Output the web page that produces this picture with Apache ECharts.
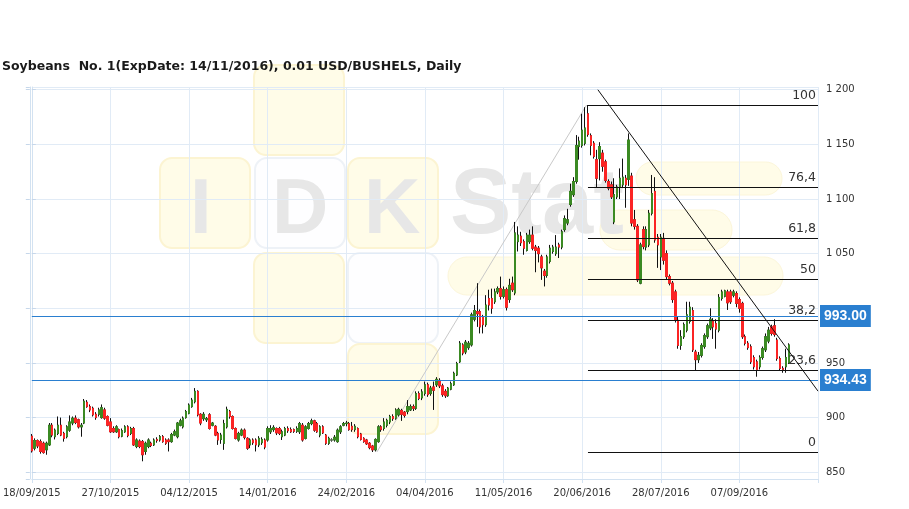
<!DOCTYPE html>
<html><head><meta charset="utf-8">
<script src="https://cdn.jsdelivr.net/npm/echarts@6/dist/echarts.min.js"></script>
<style>html,body{margin:0;padding:0;background:#fff}#c{width:909px;height:509px}</style>
</head><body><div id="c"></div>
<script>
const chartTitle = 'Soybeans  No. 1(ExpDate: 14/11/2016), 0.01 USD/BUSHELS, Daily';
// exchange holidays / days without data (skipped in the trading calendar)
const skippedDays = ['2015-11-26','2015-12-25','2016-01-01','2016-01-18','2016-02-15','2016-03-25','2016-05-30','2016-07-04','2016-08-01','2016-09-05'];
const tickLabels = ['18/09/2015','27/10/2015','04/12/2015','14/01/2016','24/02/2016','04/04/2016','11/05/2016','20/06/2016','28/07/2016','07/09/2016'];
const emptySlots = 10;
// [open, close, low, high]
const ohlc = [
[883,869.5,868,885],[872,879,870,881],[879,874,872,880],[878,869,867,880],[876.5,868,867,878],[870.5,876.5,866,878],[875,893,874,895],[893,884,882,895],[882.5,888.5,880,890],[885.5,893,884,901],
[893,884,883,900],[885.5,881,878,887],[882.5,891.5,881,893],[888.5,896,887,902],[895,899.5,893,901],[899.5,895.5,894,902],[898,891.5,890,899],[891.5,893,882.5,895],[895,915,894,917],[914,910,909,916],
[910,907,905,912],[908.5,902.5,901,910],[903,900,898,905],[903,907,901,909],[900,909,899,912],[907,899.5,898,909],[901,893,892,902],[896,887,886,899.5],[890,887,886,892],[887,891.5,886,893],
[889,882.5,881,890],[883,888,882,890],[887,891.5,886,893],[891.5,883.5,882,893],[885.5,890,884,891.5],[890,875,874,891.5],[873.5,879.5,872,881],[878.5,873.5,872,880],[878,866,860,879.5],[869,876.5,866,878],
[873.5,879.5,872,881],[876.5,874.5,873,878],[875,879.5,874,881],[880,879,877,882],[879.5,882.5,878,884],[882.5,878,877,884],[879.5,876.5,875,881],[879.5,878,869,881],[878,884.5,877,886],[884,887,883,889],
[882.5,895,881,896],[893,897,892,899],[891.5,899.5,890,901],[900,905.5,899,907],[904,911.5,903,913],[910,916,909,918],[914.5,924,913,927],[924,902.5,901,925],[903,895,893,904],[899,903,897,905],
[898,899,896,900.5],[902.5,890,889,904],[893,895,892,896],[892,884,883,893],[885.5,879.5,875,887],[880,884,876,886],[876.5,894.5,870.5,898],[891.5,907.5,890,910],[905.5,901,899,907],[901,890,889,902],
[890,881,880,891],[879.5,885.5,878,887],[884,888.5,883,890],[888.5,882,880,890],[881,872,870.5,882],[875,879.5,872,881],[879.5,877,875,881],[879.5,875,869,881],[875,881,873,883],[877,880,875,882],
[879.5,873,871,881],[879.5,890,878,892],[887,890,885,893],[889,891,887,893],[890,886,884,891],[890,885.5,884,891.5],[882.5,887,879.5,889],[884,890,883,891.5],[890,888,886,892],[889,887,886,891],
[889,887.5,886,890],[887.5,890,886,892],[887,894.5,885,896],[893,879.5,878,895],[881,891.5,880,893],[890,894.5,889,896],[894.5,897,893,899],[897,888.5,887,898],[894.5,887,886,896],[884,891.5,882,893],
[891.5,886,885,893],[884,876.5,875,885],[876.5,881,875,882.5],[879.5,879.5,878,881],[879.5,882,878,884],[878,888.5,877,890],[887,891.5,885,893],[893,894.5,892,896],[894.5,895,892,897],[894.5,889,888,896],
[892,889,887,896],[889,892,887,894],[890,882.5,881,891],[885,880,879,886],[881,878,877,882],[879.5,876,875,880.5],[876.5,872.5,871,877.5],[874,870.5,868.5,875],[870.5,880,869,881],[878,891.5,877,893],
[891.5,889,887,893],[890,896,888,899.5],[893,897.5,891,899],[896,901,894,902.5],[901,899,897,903],[899.5,907,898,908.5],[902.5,907.5,901,909],[906.5,903,897,908],[905,902,900,906],[905.5,910,903,916],
[907,910,906,912],[910,908.5,906,912],[908.5,922,907,924],[922,917.5,916,924],[918,923.5,916,926],[922,930,920,933],[930,921,919,932],[922,927,920,929],[928,925,907,933],[930,935,928,937],
[934,929,927,936],[929,921,919,931],[924,920,918,926],[920,927,919,928],[926,931,925,933],[930,940.5,929,942],[939,949.5,938,951],[951,968,950,970],[966.5,959,957,968],[960,969,958,971],
[964,968,962,970],[966.5,994,965,996],[990,998,988,1003],[997,995,983,1023],[997,983,977,999],[992,985,977,994],[985,1003,983,1012],[1009,1003,998,1017],[1009,1000,995,1018],[1006,1015,1004,1018],
[1015,1018,1013,1020],[1018,1011,1008,1029],[1011,1017,1009,1020],[1017,1001,998,1019],[1008,1021,1005,1027],[1023,1017,1015,1029],[1014,1069,1012,1079],[1061,1067,1052,1075],[1066,1060,1057,1070],[1061,1055,1049,1063],
[1053,1067,1052,1069],[1061,1067,1059,1072],[1067,1055,1053,1075],[1056,1053,1033,1058],[1055,1050,1042,1057],[1047,1037,1026,1049],[1034,1030,1020,1036],[1030,1047,1028,1049],[1043,1055,1041,1058],[1052,1056,1050,1058],
[1050,1056,1048,1067],[1058,1056,1046,1060],[1056,1070,1054,1072],[1072,1082,1070,1085],[1078,1081,1076,1091],[1095,1107,1093,1114],[1104,1116,1102,1120],[1116,1149,1114,1158.5],[1148,1153,1136,1157],[1149,1163,1147,1178],
[1151,1165,1149,1184],[1178,1159,1157,1186],[1158,1149,1140,1160],[1151,1139,1137,1153],[1136,1119,1111,1145],[1137,1148,1117,1152],[1142,1130,1125,1145],[1134,1117,1115,1136],[1116,1110,1108,1118],[1113,1102,1100,1116],
[1079,1104,1077,1119],[1102,1111,1100,1113],[1111,1119,1100,1128],[1113,1120,1110,1137],[1119,1113,1092,1122],[1118,1154,1112,1160],[1121,1078,1075,1124],[1081,1075,1072,1090],[1075,1026,1024,1077],[1023,1058,1022,1060],
[1072,1056.5,1054,1075],[1056,1072,1053,1075],[1058,1087,1056,1090],[1087,1105,1085,1122],[1107,1062.5,1060,1120],[1065,1058,1037,1068],[1047,1065,1035,1068],[1064,1044,1040,1069],[1050,1029,1026,1053],[1029,1023,1021,1031],
[1023,1008,1005,1025],[1015,989,987,1017],[989,966,963,992],[966,974,962,980],[974,985,972,987],[980,994,978,1006],[988,1001,986,1006],[998,962,960,1001],[960,953,943.5,962],[953,957,950,960],
[957,966,955,968],[965,975,963,977],[974,984,972,986],[982,990,980,1000],[988,983,972,991],[986,981,963,990],[980,1010,978,1013],[1009,1015,1007,1017],[1011,1016,1010,1017],[1015,1005,998.5,1017],
[1015,1006,1004,1017],[1012,1015,1010,1017],[1013.5,1004.5,1001,1015.5],[1008,1000,996,1010],[1004.5,974,972,1006],[974,968,966,976],[968,964,962,970],[964.8,951,949,967],[955,946.5,944,957],[951,943.5,937.4,953],
[946.5,955,944,957],[955,963,953,965],[962,974,960,977],[970,980,968,983],[983,977,975,985],[984,976,974,990],[971,954,952,973],[954,945,943,956],[945,944,941,947],[946.5,955,941,963],
[950,966.5,949,968]
];
const fibLabels = ['100','76,4','61,8','50','38,2','23,6','0'];
const fibValues = [1186, 1111, 1064.5, 1027, 989.5, 943, 868];
const fibStartIndex = 191;
const levelLabels = ['993.00','934.43'];
const levelValues = [993.00, 934.43];
const hiddenTickValues = [1000]; // covered by the 993.00 price box in the original
const downTrend = [[194.4, 1200], [270, 924.2]];
const upTrend = [[118.5, 868.5], [190.5, 1186]];

function tradingDays(count) {
  const out = [];
  const d = new Date(Date.UTC(2015, 8, 18));
  while (out.length < count) {
    const wd = d.getUTCDay();
    const iso = d.toISOString().slice(0, 10);
    if (wd !== 0 && wd !== 6 && skippedDays.indexOf(iso) < 0) {
      out.push(iso.slice(8, 10) + '/' + iso.slice(5, 7) + '/' + iso.slice(0, 4));
    }
    d.setUTCDate(d.getUTCDate() + 1);
  }
  return out;
}
const categories = tradingDays(ohlc.length + emptySlots);
const lastIndex = categories.length - 1;

const wickData = ohlc.map(r => [r[0], r[1], r[2], r[3]]);
const bodyData = ohlc.map(r => [r[0], r[1], Math.min(r[0], r[1]), Math.max(r[0], r[1])]);

const yMin = 843.8, yMax = 1202.5;
const gridColor = '#e1ebf6';
const axisColor = '#d3e2f1';
const fmtY = v => (hiddenTickValues.indexOf(v) >= 0 ? '' : String(v).replace(/\B(?=(\d{3})+(?!\d))/g, ' '));

const yellow = {fill: '#fffce8', stroke: '#fcf4d2', lineWidth: 2};
const whiteBox = {fill: '#fefeff', stroke: '#eef2f7', lineWidth: 2};
function sq(x, y, st) { return {type: 'rect', silent: true, z: -10, shape: {x: x, y: y, width: 90, height: 90, r: 12}, style: st}; }
function pill(x, y, w, h) { return {type: 'rect', silent: true, z: -10, shape: {x: x, y: y, width: w, height: h, r: h / 2}, style: {fill: '#fffce8', stroke: '#fcf6da', lineWidth: 1}}; }
function letter(t, x, y, size) { return {type: 'text', silent: true, z: -9, style: {text: t, x: x, y: y, font: 'bold ' + size + 'px "Liberation Sans", Arial', fill: '#e7e7e7', textVerticalAlign: 'top'}}; }

const chart = echarts.init(document.getElementById('c'), null, {renderer: 'canvas'});
chart.setOption({
  animation: false,
  backgroundColor: '#fff',
  title: {text: chartTitle, left: 2, top: 60, padding: 0,
    textStyle: {fontFamily: 'DejaVu Sans', fontWeight: 'bold', fontSize: 12.5, color: '#1a1a1a'}},
  graphic: [
    sq(254, 65, yellow), sq(160, 158, yellow), sq(255, 158, whiteBox), sq(348, 158, yellow),
    sq(254, 253, yellow), sq(348, 253, whiteBox), sq(348, 344, yellow),
    pill(448, 257, 335, 38), pill(600, 210, 132, 40), pill(636, 162, 146, 33),
    letter('I', 190, 172, 78), letter('D', 272, 172, 78), letter('K', 364, 172, 78), letter('Stat', 450, 162, 92)
  ],
  grid: {left: 31, right: 91, top: 87, bottom: 30, containLabel: false},
  xAxis: [{
    type: 'category', data: categories, boundaryGap: false,
    axisLine: {show: true, lineStyle: {color: axisColor}},
    axisTick: {show: true, interval: 26, length: 4, lineStyle: {color: axisColor}},
    axisLabel: {interval: 26, color: '#333', fontFamily: 'DejaVu Sans', fontSize: 10, margin: 9,
      formatter: (v, i) => (i >= ohlc.length ? '' : v)},
    splitLine: {show: true, interval: 26, lineStyle: {color: gridColor}}
  }, {type: 'value', min: 0, max: lastIndex, show: false}],
  yAxis: [{
    type: 'value', position: 'right', min: yMin, max: yMax, splitNumber: 7,
    axisLine: {show: true, lineStyle: {color: axisColor}},
    axisTick: {show: true, length: 4, lineStyle: {color: '#c6d7ea'}},
    axisLabel: {showMinLabel: false, showMaxLabel: false, color: '#333', fontFamily: 'DejaVu Sans', fontSize: 10, margin: 8, formatter: fmtY},
    splitLine: {show: true, lineStyle: {color: gridColor}}
  }, {
    type: 'value', position: 'left', min: yMin, max: yMax, splitNumber: 7, offset: 2,
    axisLine: {show: true, lineStyle: {color: axisColor}},
    axisTick: {show: true, length: 4, lineStyle: {color: '#c6d7ea'}},
    axisLabel: {show: false}, splitLine: {show: false}
  }],
  series: [
    {type: 'candlestick', name: 'wick', data: wickData, barWidth: 2, silent: true, z: 3,
      itemStyle: {color: '#111', color0: '#111', borderColor: '#111', borderColor0: '#111', borderColorDoji: '#111', borderWidth: 1}},
    {type: 'candlestick', name: 'body', data: bodyData, barWidth: 2, silent: true, z: 4,
      itemStyle: {color: '#3b8a23', color0: '#fb2424', borderColor: '#3b8a23', borderColor0: '#fb2424', borderColorDoji: '#6f8f66', borderWidth: 1}},
    {type: 'line', name: 'up', xAxisIndex: 1, data: upTrend, symbol: 'none', silent: true, z: 2,
      lineStyle: {color: '#c9c9c9', width: 1}},
    {type: 'line', name: 'down', xAxisIndex: 1, data: downTrend, symbol: 'none', silent: true, z: 5,
      lineStyle: {color: '#111', width: 1}},
    {type: 'line', name: 'fib', xAxisIndex: 1, data: [[fibStartIndex, fibValues[0]]], symbol: 'none', silent: true, z: 5,
      markLine: {silent: true, symbol: 'none', animation: false,
        lineStyle: {color: '#111', width: 1, type: 'solid'},
        label: {show: true, position: 'insideEndTop', color: '#333', fontFamily: 'DejaVu Sans', fontSize: 12.5, distance: [2, 3]},
        data: fibValues.map((v, i) => [{coord: [fibStartIndex, v], label: {formatter: fibLabels[i]}}, {coord: [lastIndex, v]}])
      }
    },
    {type: 'line', name: 'levels', xAxisIndex: 1, data: [], symbol: 'none', silent: true, z: 6,
      markLine: {silent: true, symbol: 'none', animation: false,
        lineStyle: {color: '#2a7fd0', width: 1, type: 'solid'},
        label: {show: true, position: 'end', distance: 2, backgroundColor: '#2a7fd0', color: '#fff',
          fontFamily: '"Liberation Sans", Arial', fontWeight: 'bold', fontSize: 14, lineHeight: 15, padding: [4, 4, 3, 4]},
        data: levelValues.map((v, i) => ({yAxis: v, label: {formatter: levelLabels[i]}}))
      }
    }
  ]
});
</script></body></html>
